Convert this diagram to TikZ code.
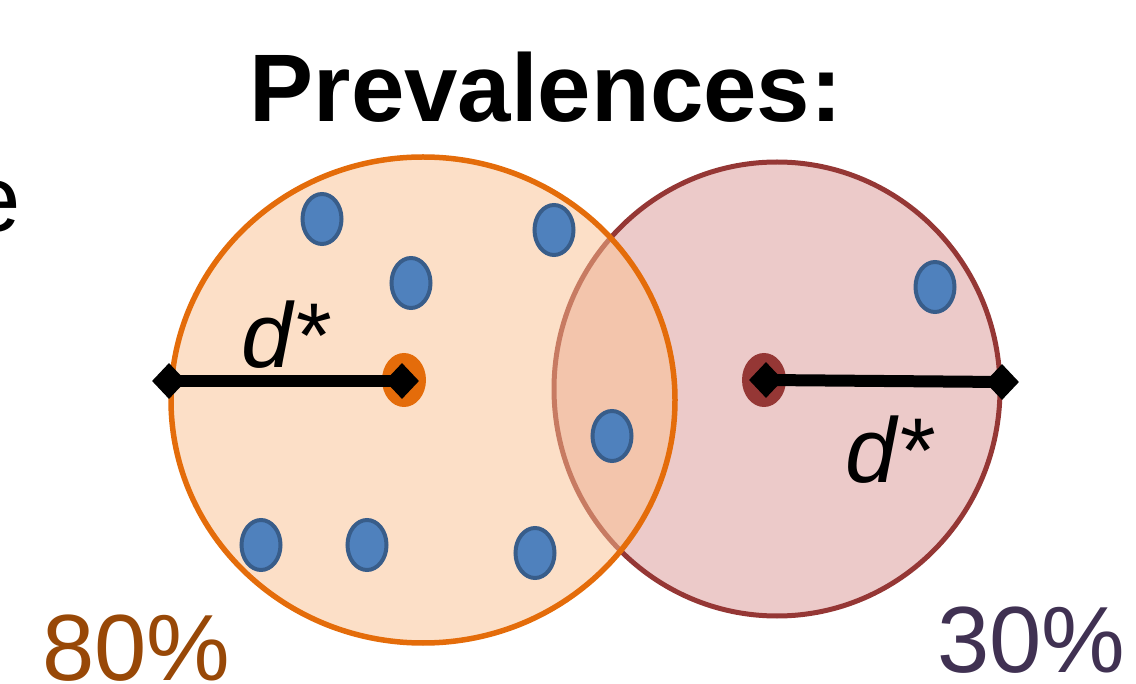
\documentclass[tikz,border=0pt]{standalone}
\usepackage{fontspec}
\setmainfont{Liberation Sans}
\usetikzlibrary{shapes.geometric}

\definecolor{orangeline}{HTML}{E46C0A}
\definecolor{orangefill}{HTML}{FAC090}
\definecolor{redline}{HTML}{953735}
\definecolor{redfill}{HTML}{C0504D}
\definecolor{dotfill}{HTML}{4F81BD}
\definecolor{dotline}{HTML}{385D8A}
\definecolor{browntext}{HTML}{984807}
\definecolor{purpletext}{HTML}{403152}

\tikzset{
	dot/.style={ellipse, draw=dotline, line width=4pt, fill=dotfill,
		minimum width=39pt, minimum height=50pt, inner sep=0pt},
	centre/.style={ellipse, minimum width=44pt, minimum height=54pt, inner sep=0pt},
	tip/.style={diamond, fill=black, minimum width=34pt, minimum height=36pt, inner sep=0pt},
	big/.style={font=\fontsize{94}{100}\selectfont, inner sep=0pt}
}

\begin{document}
\begin{tikzpicture}[x=1pt, y=-1pt]
	% размеры картинки
	\def\W{1136}
	\def\H{684}

	\useasboundingbox (0,0) rectangle (\W,\H);
	\clip (0,0) rectangle (\W,\H);

	% заголовок и обрезанная буква слева
	\node[big, font=\fontsize{96}{100}\selectfont\bfseries, anchor=base] (title) at (546,122) {Prevalences:};
	\node[big, anchor=base east] (cut) at (21,232) {e};

	% круги: сначала красный, потом оранжевый поверх
	\draw[redline, line width=5pt, fill=redfill, fill opacity=0.3] (777,389) ellipse [x radius=223pt, y radius=227pt];
	\draw[orangeline, line width=5.5pt, fill=orangefill, fill opacity=0.5] (423,400) ellipse [x radius=252pt, y radius=243pt];

	% точки
	\node[dot] (p1) at (322,219) {};
	\node[dot] (p2) at (554,230) {};
	\node[dot] (p3) at (411,283) {};
	\node[dot] (p4) at (935,287) {};
	\node[dot] (p5) at (612,436) {};
	\node[dot] (p6) at (261,545) {};
	\node[dot] (p7) at (367,545) {};
	\node[dot] (p8) at (535,553) {};

	% центры
	\node[centre, fill=orangeline] (c1) at (404,380) {};
	\node[centre, fill=redline] (c2) at (764,380) {};

	% радиусы d*
	\node[tip] (a1) at (169,381) {};
	\node[tip] (b1) at (402,381) {};
	\draw[line width=12pt] (a1.center) -- (b1.center);
	\node[tip] (a2) at (766,380) {};
	\node[tip] (b2) at (1002,382) {};
	\draw[line width=12pt] (a2.center) -- (b2.center);

	\node[big, font=\fontsize{92}{100}\selectfont\itshape, anchor=base west] (d1) at (241,368) {d*};
	\node[big, font=\fontsize{92}{100}\selectfont\itshape, anchor=base west] (d2) at (845,483) {d*};

	% проценты
	\node[big, text=browntext, anchor=base west] (v1) at (42,680) {80\%};
	\node[big, text=purpletext, anchor=base west] (v2) at (937,672) {30\%};
\end{tikzpicture}
\end{document}
